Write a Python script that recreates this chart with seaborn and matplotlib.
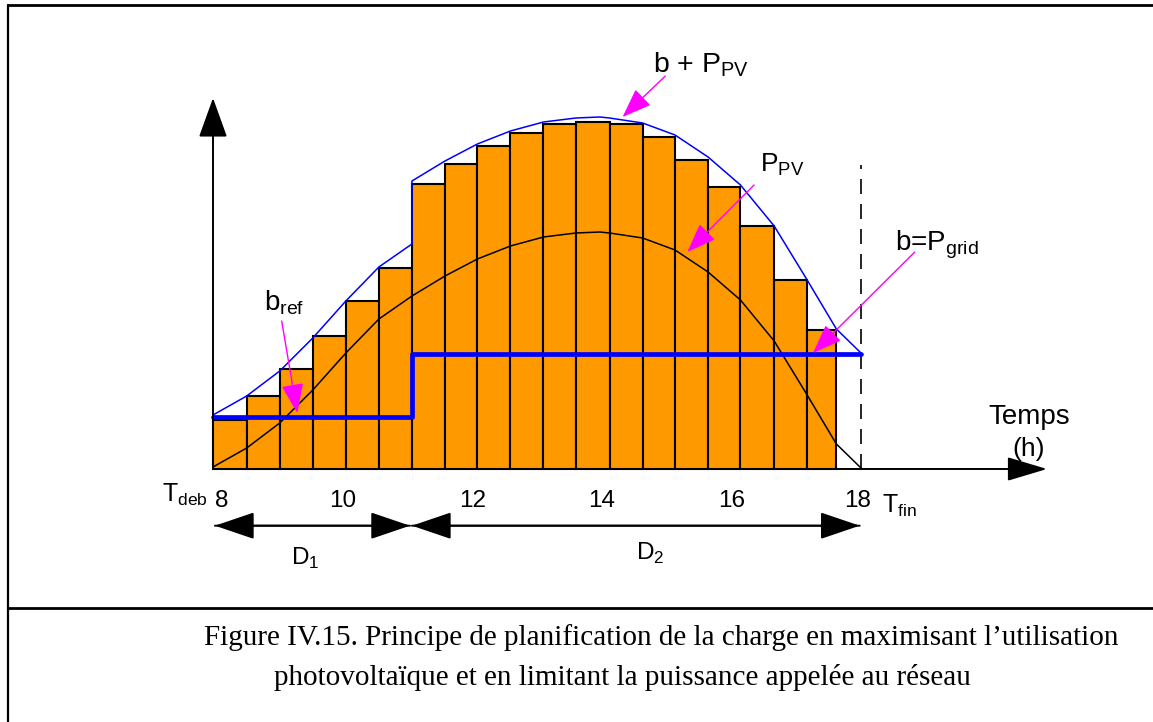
import matplotlib
matplotlib.use("Agg")
import matplotlib.pyplot as plt
import seaborn as sns
import pandas as pd

# load slots (hours) and scheduled load per slot
slot_edges = [8.00, 8.52, 9.03, 9.54, 10.05, 10.56, 11.07, 11.58, 12.08, 12.59,
              13.10, 13.60, 14.12, 14.63, 15.13, 15.64, 16.14, 16.66, 17.16, 17.62]
load = [0.49, 0.73, 1.00, 1.33, 1.68, 2.01, 2.85, 3.05, 3.23, 3.36,
        3.45, 3.47, 3.45, 3.32, 3.09, 2.82, 2.43, 1.89, 1.39]

# photovoltaic production curve
pv_hours = [8.00, 8.52, 9.03, 9.54, 10.05, 10.56, 11.07, 11.58, 12.08, 12.59, 13.10,
            13.60, 13.97, 14.12, 14.63, 15.13, 15.64, 16.14, 16.66, 17.16, 17.62, 18.00]
pv = [0.02, 0.21, 0.46, 0.79, 1.16, 1.50, 1.73, 1.93, 2.10, 2.23, 2.32,
      2.36, 2.37, 2.36, 2.31, 2.19, 1.97, 1.69, 1.28, 0.75, 0.25, 0.01]

# grid limit b: b_ref during D1, b = P_grid during D2
b_hours = [8.0, 11.07, 18.0]
b_levels = [0.52, 1.15, 1.15]

tick_hours = [8, 10, 12, 14, 16, 18]

sns.set_style("white")
plt.rcParams["font.family"] = ["Liberation Sans", "DejaVu Sans"]
plt.rcParams["text.color"] = "black"
plt.rcParams["mathtext.fontset"] = "custom"
plt.rcParams["mathtext.rm"] = "Liberation Sans"

W, H = 1153, 722
fig = plt.figure(figsize=(W / 100, H / 100), dpi=100)
ax = fig.add_axes([0, 0, 1, 1])

# bars
centers = [(a + b) / 2 for a, b in zip(slot_edges[:-1], slot_edges[1:])]
sns.histplot(x=centers, weights=load, bins=slot_edges, ax=ax, color="#FF9900",
             edgecolor="black", linewidth=1.5, alpha=1, zorder=2)

# P_PV curve
sns.lineplot(x=pv_hours, y=pv, estimator=None, sort=False, color="black",
             lw=1.1, ax=ax, zorder=3)

# b + P_PV curve
df = pd.DataFrame({"t": pv_hours, "pv": pv})
step = b_hours[1]
seg1 = df[df.t <= step].assign(v=lambda d: d.pv + b_levels[0])
seg2 = df[df.t >= step].assign(v=lambda d: d.pv + b_levels[1])
upper = pd.concat([seg1, seg2])
sns.lineplot(data=upper, x="t", y="v", estimator=None, sort=False, color="blue",
             lw=1.1, ax=ax, zorder=3)

# b line
sns.lineplot(x=b_hours, y=b_levels, estimator=None, sort=False, drawstyle="steps-post",
             color="blue", lw=3.4, solid_capstyle="round", ax=ax, zorder=4)

# T_fin dashed line
ax.plot([18, 18], [0, 3.04], color="black", lw=1.2, dashes=(9, 6), zorder=3)

ax.set_xlim(8 - 213 / 64.8, 8 + 940 / 64.8)
ax.set_ylim(-2.53, 4.69)
ax.axis("off")

def arrow(tail, tip, color="black", lw=1.4, style="-|>", hl=1.0, hw=0.35, ms=25):
    ax.annotate("", xy=tip, xytext=tail,
                arrowprops=dict(arrowstyle=f"{style},head_length={hl},head_width={hw}",
                                color=color, lw=lw, shrinkA=0, shrinkB=0,
                                mutation_scale=ms), zorder=5)

# axes with arrows
arrow((8.0, 0), (20.87, 0), hl=1.0, hw=0.3)
arrow((8.0, 0), (8.0, 3.71), hl=1.0, hw=0.36)

# durations D1, D2
arrow((11.04, -0.567), (8.03, -0.567), hl=1.0, hw=0.34)
arrow((8.03, -0.567), (11.04, -0.567), hl=1.0, hw=0.34)
arrow((17.98, -0.567), (11.07, -0.567), hl=1.0, hw=0.34)
arrow((11.07, -0.567), (17.98, -0.567), hl=1.0, hw=0.34)

# magenta pointers
mg = "#FF00FF"
arrow((14.98, 3.93), (14.32, 3.52), color=mg, lw=1.0, hl=0.8, hw=0.3, ms=23)
arrow((16.35, 2.84), (15.32, 2.17), color=mg, lw=1.0, hl=0.8, hw=0.3, ms=23)
arrow((18.83, 2.17), (17.26, 1.16), color=mg, lw=1.0, hl=0.8, hw=0.3, ms=23)
arrow((9.06, 1.48), (9.30, 0.56), color=mg, lw=1.0, hl=0.8, hw=0.3, ms=23)

# labels
fs = 17.5
ax.text(14.79, 3.97, r"b + P$_\mathregular{PV}$", fontsize=20.5, va="baseline")
ax.text(16.44, 2.97, r"P$_\mathregular{PV}$", fontsize=19, va="baseline")
ax.text(18.52, 2.19, r"b=P$_\mathregular{grid}$", fontsize=20, va="baseline")
ax.text(8.78, 1.59, r"b$_\mathregular{ref}$", fontsize=20, va="baseline")
ax.text(19.96, 0.45, "Temps", fontsize=20, va="baseline")
ax.text(20.58, 0.13, "(h)", fontsize=19, va="baseline", ha="center")

for h in tick_hours:
    x = h + 0.14 if h == 8 else h - 0.06 if h == 18 else h
    ax.text(x, -0.377, str(h), fontsize=fs, va="baseline", ha="center")
ax.text(7.92, -0.33, r"T$_\mathregular{deb}$", fontsize=18, va="baseline", ha="right")
ax.text(18.33, -0.437, r"T$_\mathregular{fin}$", fontsize=18, va="baseline")
ax.text(9.21, -0.96, r"D$_\mathregular{1}$", fontsize=fs, va="baseline")
ax.text(14.53, -0.91, r"D$_\mathregular{2}$", fontsize=fs, va="baseline")

# frame and caption
tr = ax.transAxes
ax.plot([8 / W, 8 / W], [0, 1 - 5 / H], transform=tr, color="black", lw=1.6, clip_on=False)
ax.plot([8 / W, 1], [1 - 5 / H, 1 - 5 / H], transform=tr, color="black", lw=2, clip_on=False)
ax.plot([8 / W, 1], [1 - 608 / H, 1 - 608 / H], transform=tr, color="black", lw=2, clip_on=False)
cap = dict(transform=tr, family="Liberation Serif", fontsize=21, va="baseline", ha="center")
ax.text(661 / W, 1 - 645 / H,
        "Figure IV.15. Principe de planification de la charge en maximisant l\u2019utilisation",
        **cap)
ax.text(622 / W, 1 - 685 / H,
        "photovolta\u00efque et en limitant la puissance appel\u00e9e au r\u00e9seau",
        **cap)

fig.savefig("out.png", dpi=100)
